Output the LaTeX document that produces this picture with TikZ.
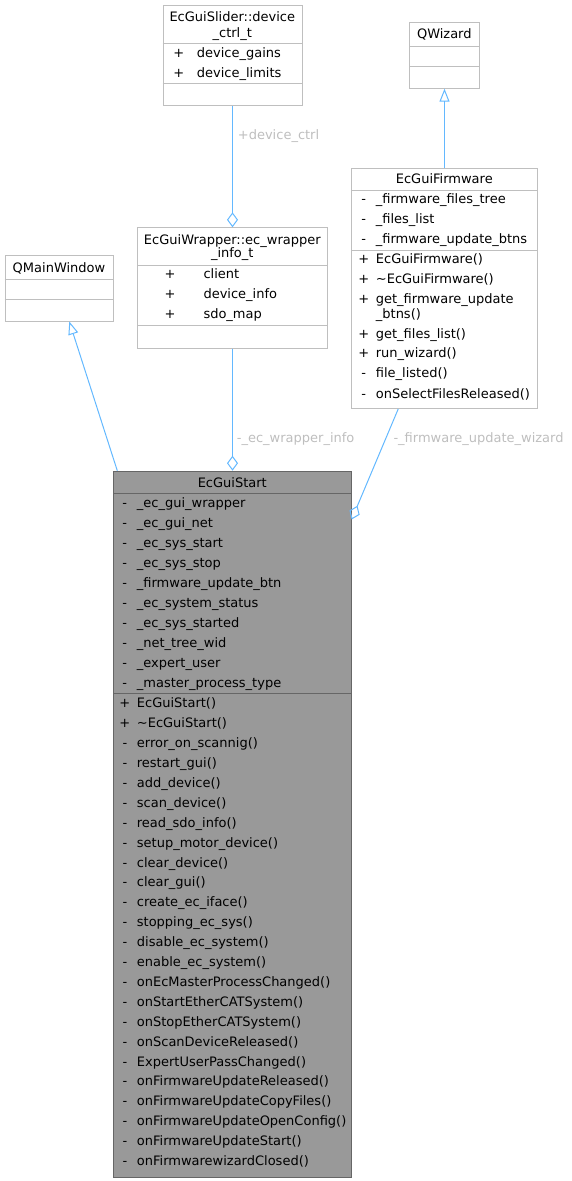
\documentclass[tikz,border=0pt]{standalone}
\usepackage{fontspec}
\setmainfont{DejaVu Sans}
\usetikzlibrary{arrows.meta}
\definecolor{edgeblue}{HTML}{63B8FF}
\definecolor{boxline}{HTML}{BFBFBF}
\definecolor{startfill}{HTML}{999999}
\definecolor{startline}{HTML}{666666}
\definecolor{labelgray}{HTML}{BEBEBE}
\begin{document}
\begin{tikzpicture}[x=1pt, y=-1pt, font=\fontsize{13}{14.7}\selectfont,
  classbox/.style={draw=boxline, fill=white, line width=1pt, anchor=north west, inner sep=0pt},
  mainbox/.style={classbox, draw=startline, fill=startfill},
  row/.style={anchor=base west, inner sep=0pt, yshift=-4.5pt},
  title/.style={anchor=base, inner sep=0pt, yshift=-4.5pt},
  vis/.style={anchor=base, inner sep=0pt, yshift=-4.5pt},
  edge/.style={draw=edgeblue, line width=1pt},
  inherit/.style={edge, -{Triangle[open, length=13pt, width=10pt]}},
  member/.style={edge, -{Diamond[open, length=15pt, width=11pt]}},
  edgelabel/.style={row, text=labelgray}]
\useasboundingbox (0,0) rectangle (571,1181);

% Define the class boxes
\node (slider) [classbox, minimum width=139pt, minimum height=100pt] at (162.5,5) {};
\node (qwizard) [classbox, minimum width=70pt, minimum height=65.4pt] at (409,22.3) {};
\node (firmware) [classbox, minimum width=185.3pt, minimum height=240pt] at (351.35,168) {};
\node (qmain) [classbox, minimum width=108.6pt, minimum height=65.5pt] at (4.7,255) {};
\node (wrapper) [classbox, minimum width=189.6pt, minimum height=120.4pt] at (137.2,227.3) {};
\node (start) [mainbox, minimum width=237.3pt, minimum height=706pt] at (113.35,470.7) {};

% Compartment lines
\draw[boxline, line width=1pt] (slider.west |- 0,43.3) -- (slider.east |- 0,43.3);
\draw[boxline, line width=1pt] (slider.west |- 0,83.3) -- (slider.east |- 0,83.3);
\draw[boxline, line width=1pt] (qwizard.west |- 0,46) -- (qwizard.east |- 0,46);
\draw[boxline, line width=1pt] (qwizard.west |- 0,66) -- (qwizard.east |- 0,66);
\draw[boxline, line width=1pt] (firmware.west |- 0,190) -- (firmware.east |- 0,190);
\draw[boxline, line width=1pt] (firmware.west |- 0,250) -- (firmware.east |- 0,250);
\draw[boxline, line width=1pt] (qmain.west |- 0,279) -- (qmain.east |- 0,279);
\draw[boxline, line width=1pt] (qmain.west |- 0,299) -- (qmain.east |- 0,299);
\draw[boxline, line width=1pt] (wrapper.west |- 0,265) -- (wrapper.east |- 0,265);
\draw[boxline, line width=1pt] (wrapper.west |- 0,325.3) -- (wrapper.east |- 0,325.3);
\draw[startline, line width=1pt] (start.west |- 0,493.3) -- (start.east |- 0,493.3);
\draw[startline, line width=1pt] (start.west |- 0,693.3) -- (start.east |- 0,693.3);

% Titles
\node (slidertitle) [title] at (232.3,17.3) {EcGuiSlider::device};
\node (slidertitleb) [title] at (232.3,33.3) {\_ctrl\_t};
\node (qwizardtitle) [title] at (444.3,34.3) {QWizard};
\node (firmwaretitle) [title] at (444.3,179.3) {EcGuiFirmware};
\node (qmaintitle) [title] at (59,267.7) {QMainWindow};
\node (wrappertitle) [title] at (232.3,240) {EcGuiWrapper::ec\_wrapper};
\node (wrappertitleb) [title] at (232.3,253.3) {\_info\_t};
\node (starttitle) [title] at (232.3,482.7) {EcGuiStart};

% Members
\foreach \t [count=\i] in {device\_gains, device\_limits} {
  \node (slv\i) [vis] at (178.8,32.7+20*\i) {+};
  \node (sl\i) [row] at (196.7,32.7+20*\i) {\t};
}
\foreach \t [count=\i] in {client, device\_info, sdo\_map} {
  \node (wrv\i) [vis] at (170,254+20*\i) {+};
  \node (wr\i) [row] at (203.3,254+20*\i) {\t};
}
\foreach \v/\y/\t [count=\i] in {-/199.3/\_firmware\_files\_tree, -/219.3/\_files\_list,
  -/239.3/\_firmware\_update\_btns, +/259.3/EcGuiFirmware(),
  +/279.3/\textasciitilde EcGuiFirmware(), +/299.3/get\_firmware\_update,
  +/334/get\_files\_list(), +/353.3/run\_wizard(), -/373.3/file\_listed(),
  -/394/onSelectFilesReleased()} {
  \node (fwv\i) [vis] at (363.7,\y) {\v};
  \node (fw\i) [row] at (375.7,\y) {\t};
}
\node (fwbtns) [row] at (375.7,314) {\_btns()};

\foreach \t [count=\i] in {\_ec\_gui\_wrapper, \_ec\_gui\_net, \_ec\_sys\_start,
  \_ec\_sys\_stop, \_firmware\_update\_btn, \_ec\_system\_status, \_ec\_sys\_started,
  \_net\_tree\_wid, \_expert\_user, \_master\_process\_type} {
  \node (sav\i) [vis] at (124.7,482.7+20*\i) {-};
  \node (sa\i) [row] at (136.7,482.7+20*\i) {\t};
}
\foreach \v/\t [count=\i] in {+/EcGuiStart(), +/\textasciitilde EcGuiStart(),
  -/error\_on\_scannig(), -/restart\_gui(), -/add\_device(), -/scan\_device(),
  -/read\_sdo\_info(), -/setup\_motor\_device(), -/clear\_device(), -/clear\_gui(),
  -/create\_ec\_iface(), -/stopping\_ec\_sys(), -/disable\_ec\_system(),
  -/enable\_ec\_system(), -/onEcMasterProcessChanged(), -/onStartEtherCATSystem(),
  -/onStopEtherCATSystem(), -/onScanDeviceReleased(), -/ExpertUserPassChanged(),
  -/onFirmwareUpdateReleased(), -/onFirmwareUpdateCopyFiles(),
  -/onFirmwareUpdateOpenConfig(), -/onFirmwareUpdateStart(),
  -/onFirmwarewizardClosed()} {
  \node (smv\i) [vis] at (124.9,683.4+19.9*\i) {\v};
  \node (sm\i) [row] at (136.7,683.4+19.9*\i) {\t};
}

% Connect the classes
\draw[inherit] (firmware.north) -- (qwizard.south);
\draw[inherit] ([xshift=3.95pt]start.north west) -- ([xshift=64.6pt]qmain.south west);
\draw[member] (slider.south) -- (wrapper.north);
\draw[member] (wrapper.south) -- (start.north);
\draw[member] ([xshift=-46.3pt]firmware.south) -- ([yshift=-48.8pt]start.north east);

% Edge labels
\node (ctrllabel) [edgelabel] at (237.7,135) {+device\_ctrl};
\node (infolabel) [edgelabel] at (236.7,438.3) {-\_ec\_wrapper\_info};
\node (wizardlabel) [edgelabel] at (393.3,438.3) {-\_firmware\_update\_wizard};
\end{tikzpicture}
\end{document}
